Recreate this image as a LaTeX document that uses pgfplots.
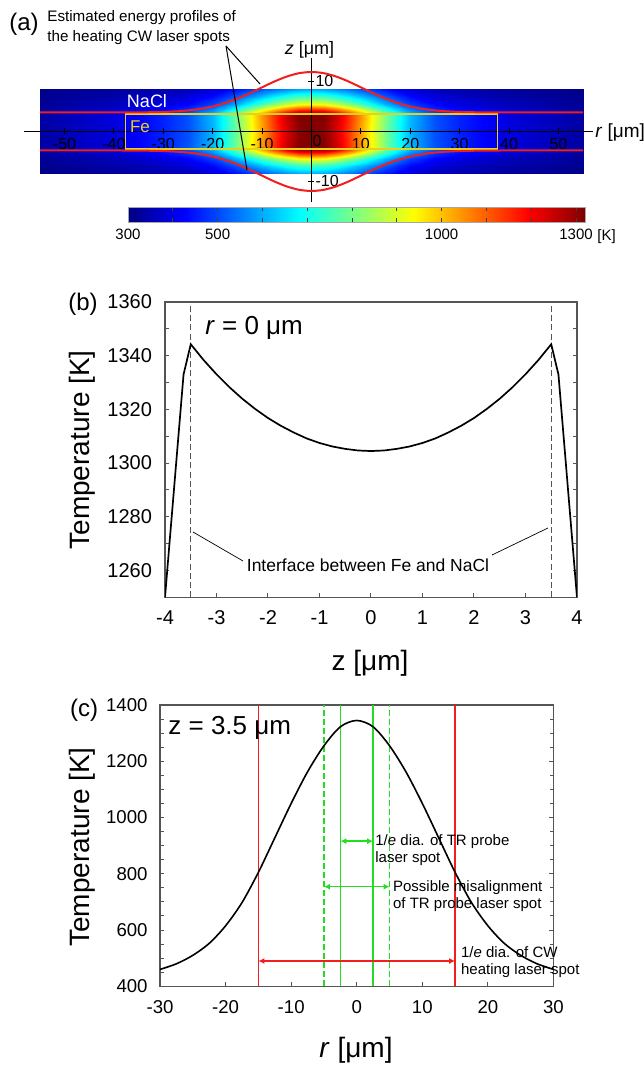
\documentclass[border=0pt]{standalone}
\usepackage{fontspec}
\setmainfont{Liberation Sans}
\usepackage{pgfplots}
\pgfplotsset{compat=1.18}
\usetikzlibrary{arrows.meta}
\definecolor{lred}{HTML}{F21E1E}
\definecolor{lgreen}{HTML}{22DD22}
\definecolor{feyel}{HTML}{E6D21E}
\definecolor{frame}{HTML}{555555}
\newcommand{\fs}[1]{\fontsize{#1}{#1}\selectfont}
\tikzset{lbl/.style={inner sep=0pt}, refpx/.style={x=0.5pt, y=-0.5pt, yshift=533pt}}
\pgfplotsset{
  panel/.style={scale only axis, tick align=inside, xtick pos=left, ytick pos=both, yticklabel pos=left,
    axis line style={frame, line width=0.6pt}, tick style={frame, line width=0.5pt},
    major tick length=2.2pt, minor tick length=1.8pt,
    /pgf/number format/assume math mode=true, /pgf/number format/1000 sep={}},
}

\begin{document}
\begin{tikzpicture}
\path[use as bounding box] (0,0) rectangle (321.5pt,533pt);

% ---------- (a) temperature map ----------
\begin{axis}[at={(12pt,432pt)}, anchor=south west,
  scale only axis, width=284.5pt, height=72pt,
  view={0}{90}, hide axis,
  xmin=-58.2, xmax=57, ymin=-14.1, ymax=14.7,
  colormap/jet, point meta min=300, point meta max=1320,
  colorbar horizontal,
  colorbar style={at={(parent axis.south west)}, anchor=north west,
    xshift=52pt, yshift=6pt, scale only axis, width=228.5pt, height=7.5pt,
    xtick={300,400,...,1300}, xticklabels={300,,500,,,,,1000,,,1300},
    xtick pos=both, xticklabel pos=lower, tick align=inside, major tick length=2pt,
    tick style={black!75, line width=0.4pt}, axis line style={black!35},
    xticklabel style={font=\fs{7.5}},
    /pgf/number format/assume math mode=true},
]
\addplot3[surf, shader=interp, mesh/cols=25] coordinates {
(-55,-8.5,310) (-40,-8.5,327) (-30,-8.5,345) (-25,-8.5,359) (-20,-8.5,388) (-17.5,-8.5,413) (-15,-8.5,441) (-12.5,-8.5,476) (-10,-8.5,508) (-7.5,-8.5,538) (-5,-8.5,566) (-2.5,-8.5,587) (0,-8.5,593) (2.5,-8.5,587) (5,-8.5,566) (7.5,-8.5,538) (10,-8.5,508) (12.5,-8.5,476) (15,-8.5,441) (17.5,-8.5,413) (20,-8.5,388) (25,-8.5,359) (30,-8.5,345) (40,-8.5,327) (55,-8.5,310)

(-55,-7,315) (-40,-7,340) (-30,-7,367) (-25,-7,388) (-20,-7,432) (-17.5,-7,470) (-15,-7,512) (-12.5,-7,564) (-10,-7,612) (-7.5,-7,657) (-5,-7,699) (-2.5,-7,730) (0,-7,739) (2.5,-7,730) (5,-7,699) (7.5,-7,657) (10,-7,612) (12.5,-7,564) (15,-7,512) (17.5,-7,470) (20,-7,432) (25,-7,388) (30,-7,367) (40,-7,340) (55,-7,315)

(-55,-5.5,321) (-40,-5.5,357) (-30,-5.5,396) (-25,-5.5,426) (-20,-5.5,489) (-17.5,-5.5,543) (-15,-5.5,603) (-12.5,-5.5,677) (-10,-5.5,746) (-7.5,-5.5,810) (-5,-5.5,870) (-2.5,-5.5,915) (0,-5.5,927) (2.5,-5.5,915) (5,-5.5,870) (7.5,-5.5,810) (10,-5.5,746) (12.5,-5.5,677) (15,-5.5,603) (17.5,-5.5,543) (20,-5.5,489) (25,-5.5,426) (30,-5.5,396) (40,-5.5,357) (55,-5.5,321)

(-55,-4.5,328) (-40,-4.5,376) (-30,-4.5,428) (-25,-4.5,468) (-20,-4.5,552) (-17.5,-4.5,624) (-15,-4.5,704) (-12.5,-4.5,802) (-10,-4.5,895) (-7.5,-4.5,980) (-5,-4.5,1060) (-2.5,-4.5,1120) (0,-4.5,1136) (2.5,-4.5,1120) (5,-4.5,1060) (7.5,-4.5,980) (10,-4.5,895) (12.5,-4.5,802) (15,-4.5,704) (17.5,-4.5,624) (20,-4.5,552) (25,-4.5,468) (30,-4.5,428) (40,-4.5,376) (55,-4.5,328)

(-55,-3.5,335) (-40,-3.5,395) (-30,-3.5,460) (-25,-3.5,510) (-20,-3.5,615) (-17.5,-3.5,705) (-15,-3.5,805) (-12.5,-3.5,928) (-10,-3.5,1044) (-7.5,-3.5,1150) (-5,-3.5,1250) (-2.5,-3.5,1320) (0,-3.5,1320) (2.5,-3.5,1320) (5,-3.5,1250) (7.5,-3.5,1150) (10,-3.5,1044) (12.5,-3.5,928) (15,-3.5,805) (17.5,-3.5,705) (20,-3.5,615) (25,-3.5,510) (30,-3.5,460) (40,-3.5,395) (55,-3.5,335)

(-55,0,334) (-40,0,393) (-30,0,457) (-25,0,506) (-20,0,609) (-17.5,0,697) (-15,0,795) (-12.5,0,915) (-10,0,1029) (-7.5,0,1133) (-5,0,1231) (-2.5,0,1305) (0,0,1320) (2.5,0,1305) (5,0,1231) (7.5,0,1133) (10,0,1029) (12.5,0,915) (15,0,795) (17.5,0,697) (20,0,609) (25,0,506) (30,0,457) (40,0,393) (55,0,334)

(-55,3.5,335) (-40,3.5,395) (-30,3.5,460) (-25,3.5,510) (-20,3.5,615) (-17.5,3.5,705) (-15,3.5,805) (-12.5,3.5,928) (-10,3.5,1044) (-7.5,3.5,1150) (-5,3.5,1250) (-2.5,3.5,1320) (0,3.5,1320) (2.5,3.5,1320) (5,3.5,1250) (7.5,3.5,1150) (10,3.5,1044) (12.5,3.5,928) (15,3.5,805) (17.5,3.5,705) (20,3.5,615) (25,3.5,510) (30,3.5,460) (40,3.5,395) (55,3.5,335)

(-55,4.5,328) (-40,4.5,376) (-30,4.5,428) (-25,4.5,468) (-20,4.5,552) (-17.5,4.5,624) (-15,4.5,704) (-12.5,4.5,802) (-10,4.5,895) (-7.5,4.5,980) (-5,4.5,1060) (-2.5,4.5,1120) (0,4.5,1136) (2.5,4.5,1120) (5,4.5,1060) (7.5,4.5,980) (10,4.5,895) (12.5,4.5,802) (15,4.5,704) (17.5,4.5,624) (20,4.5,552) (25,4.5,468) (30,4.5,428) (40,4.5,376) (55,4.5,328)

(-55,5.5,321) (-40,5.5,357) (-30,5.5,396) (-25,5.5,426) (-20,5.5,489) (-17.5,5.5,543) (-15,5.5,603) (-12.5,5.5,677) (-10,5.5,746) (-7.5,5.5,810) (-5,5.5,870) (-2.5,5.5,915) (0,5.5,927) (2.5,5.5,915) (5,5.5,870) (7.5,5.5,810) (10,5.5,746) (12.5,5.5,677) (15,5.5,603) (17.5,5.5,543) (20,5.5,489) (25,5.5,426) (30,5.5,396) (40,5.5,357) (55,5.5,321)

(-55,7,315) (-40,7,340) (-30,7,367) (-25,7,388) (-20,7,432) (-17.5,7,470) (-15,7,512) (-12.5,7,564) (-10,7,612) (-7.5,7,657) (-5,7,699) (-2.5,7,730) (0,7,739) (2.5,7,730) (5,7,699) (7.5,7,657) (10,7,612) (12.5,7,564) (15,7,512) (17.5,7,470) (20,7,432) (25,7,388) (30,7,367) (40,7,340) (55,7,315)

(-55,8.5,310) (-40,8.5,327) (-30,8.5,345) (-25,8.5,359) (-20,8.5,388) (-17.5,8.5,413) (-15,8.5,441) (-12.5,8.5,476) (-10,8.5,508) (-7.5,8.5,538) (-5,8.5,566) (-2.5,8.5,587) (0,8.5,593) (2.5,8.5,587) (5,8.5,566) (7.5,8.5,538) (10,8.5,508) (12.5,8.5,476) (15,8.5,441) (17.5,8.5,413) (20,8.5,388) (25,8.5,359) (30,8.5,345) (40,8.5,327) (55,8.5,310)
};
\end{axis}

% axes, laser profiles and Fe foil drawn over the map
\begin{axis}[at={(12pt,432pt)}, anchor=south west,
  scale only axis, width=284.5pt, height=72pt,
  xmin=-58.2, xmax=57, ymin=-14.1, ymax=14.7,
  axis lines=middle, axis line style={-, black, line width=0.5pt},
  every inner x axis line/.append style={-}, every inner y axis line/.append style={-},
  xtick={-50,-40,-30,-20,-10,10,20,30,40,50}, ytick={-10,10},
  tick align=center, major tick length=3pt, tick style={black, line width=0.5pt},
  xticklabel style={font=\fs{8}, yshift=1.5pt},
  yticklabel style={font=\fs{8}, anchor=west},
  /pgf/number format/assume math mode=true,
  clip=false]
\addplot[feyel, line width=0.7pt] coordinates {(-37.7,-3.5) (37.7,-3.5) (37.7,3.5) (-37.7,3.5) (-37.7,-3.5)};
\addplot[lred, line width=1pt, smooth] coordinates {
(-55,3.8) (-40,3.8) (-35,3.82) (-30,3.91) (-27.5,4.02) (-25,4.21) (-22.5,4.53) (-20,5.01) (-17.5,5.69) (-15,6.58) (-12.5,7.65) (-10,8.83) (-7.5,10.0) (-5,10.99) (-2.5,11.66) (0,11.9)
(2.5,11.66) (5,10.99) (7.5,10.0) (10,8.83) (12.5,7.65) (15,6.58) (17.5,5.69) (20,5.01) (22.5,4.53) (25,4.21) (27.5,4.02) (30,3.91) (35,3.82) (40,3.8) (55,3.8)};
\addplot[lred, line width=1pt, smooth] coordinates {
(-55,-3.8) (-40,-3.8) (-35,-3.82) (-30,-3.91) (-27.5,-4.02) (-25,-4.21) (-22.5,-4.53) (-20,-5.01) (-17.5,-5.69) (-15,-6.58) (-12.5,-7.65) (-10,-8.83) (-7.5,-10.0) (-5,-10.99) (-2.5,-11.66) (0,-11.9)
(2.5,-11.66) (5,-10.99) (7.5,-10.0) (10,-8.83) (12.5,-7.65) (15,-6.58) (17.5,-5.69) (20,-5.01) (22.5,-4.53) (25,-4.21) (27.5,-4.02) (30,-3.91) (35,-3.82) (40,-3.8) (55,-3.8)};
\end{axis}

% ---------- (b) T(z) at r = 0 ----------
\begin{axis}[panel, at={(82.5pt,234.35pt)}, anchor=south west,
  width=206pt, height=147.6pt,
  xmin=-4, xmax=4, ymin=1250, ymax=1360,
  xtick={-4,...,4}, ytick={1260,1280,...,1360}, minor y tick num=1,
  ticklabel style={font=\fs{10}},
  xticklabel style={yshift=-3pt}, yticklabel style={xshift=-3pt}]
\addplot[frame, line width=0.5pt, dash pattern=on 3pt off 1.6pt] coordinates {(-3.5,1250) (-3.5,1360)};
\addplot[frame, line width=0.5pt, dash pattern=on 3pt off 1.6pt] coordinates {(3.5,1250) (3.5,1360)};
\addplot[black, line width=0.85pt] coordinates {
(-4,1250) (-3.64,1333) (-3.5,1344.3) (-3.25,1338.4) (-3,1333.1) (-2.75,1328.3) (-2.5,1324.0) (-2.25,1320.2) (-2,1316.8) (-1.75,1313.9) (-1.5,1311.4) (-1.25,1309.2) (-1,1307.5) (-0.75,1306.2) (-0.5,1305.3) (-0.25,1304.7) (0,1304.5)
(0.25,1304.7) (0.5,1305.3) (0.75,1306.2) (1,1307.5) (1.25,1309.2) (1.5,1311.4) (1.75,1313.9) (2,1316.8) (2.25,1320.2) (2.5,1324.0) (2.75,1328.3) (3,1333.1) (3.25,1338.4) (3.5,1344.3) (3.64,1333) (4,1250)};
\end{axis}

% ---------- (c) T(r) at z = 3.5 um ----------
\begin{axis}[panel, at={(80pt,39.85pt)}, anchor=south west,
  width=196.75pt, height=140.65pt,
  xmin=-30, xmax=30, ymin=400, ymax=1400,
  xtick={-30,-20,...,30}, ytick={400,600,...,1400}, minor y tick num=3,
  ticklabel style={font=\fs{9.3}},
  xticklabel style={yshift=-3.5pt}, yticklabel style={xshift=-2.7pt}]
\addplot[lred, line width=0.75pt] coordinates {(-15,400) (-15,1400)};
\addplot[lred, line width=0.75pt] coordinates {(15,400) (15,1400)};
\addplot[lgreen, line width=0.75pt] coordinates {(-2.5,400) (-2.5,1400)};
\addplot[lgreen, line width=0.75pt] coordinates {(2.5,400) (2.5,1400)};
\addplot[lgreen, line width=0.75pt, dash pattern=on 3pt off 1.5pt] coordinates {(-5,400) (-5,1400)};
\addplot[lgreen, line width=0.75pt, dash pattern=on 3pt off 1.5pt] coordinates {(5,400) (5,1400)};
\addplot[black, line width=0.8pt, smooth] coordinates {
(-30,460) (-27.5,480) (-25,510) (-22.5,552.5) (-20,615) (-17.5,697.5) (-15,805) (-12.5,927.5) (-10,1050) (-7.5,1162.5) (-5,1255) (-2.5,1322.5) (0,1345)
(2.5,1322.5) (5,1255) (7.5,1162.5) (10,1050) (12.5,927.5) (15,805) (17.5,697.5) (20,615) (22.5,552.5) (25,510) (27.5,480) (30,460)};
\addplot[lgreen, line width=0.7pt, {Latex[length=3pt,width=3pt]}-{Latex[length=3pt,width=3pt]}] coordinates {(-2.5,916) (2.5,916)};
\addplot[lgreen, line width=0.7pt, {Latex[length=3pt,width=3pt]}-{Latex[length=3pt,width=3pt]}] coordinates {(-5,754) (5,754)};
\addplot[lred, line width=0.7pt, {Latex[length=3pt,width=3pt]}-{Latex[length=3pt,width=3pt]}] coordinates {(-15,490) (15,490)};
\end{axis}

% ---------- labels, placed in reference pixel coordinates ----------
\begin{scope}[refpx]
\node[lbl, font=\fs{12}] at (24,24) {(a)};
\node[lbl, anchor=west, font=\fs{7.6}] at (47,17.5) {Estimated energy profiles of};
\node[lbl, anchor=west, font=\fs{7.6}] at (47,37.7) {the heating CW laser spots};
\draw[black, line width=0.5pt] (226,46) -- (260,84);
\draw[black, line width=0.5pt] (226,46) -- (247,170);
\node[lbl, font=\fs{9}] at (309.5,50) {\textit{z} [μm]};
\node[lbl, anchor=west, font=\fs{9.5}] at (595,133) {\textit{r} [μm]};
\node[lbl, white, font=\fs{9}] at (147,101.5) {NaCl};
\node[lbl, feyel, font=\fs{8.5}] at (140,127) {Fe};
\node[lbl, font=\fs{8}] at (317,141.5) {0};
\node[lbl, anchor=west, font=\fs{7.5}] at (597,237) {[K]};

\node[lbl, font=\fs{12}] at (83,304) {(b)};
\node[lbl, anchor=west, font=\fs{13}] at (205,328) {\textit{r} = 0 μm};
\node[lbl, font=\fs{14}, rotate=90] at (82,450) {Temperature [K]};
\node[lbl, font=\fs{14}] at (370,663) {z [μm]};
\node[lbl, font=\fs{8.75}] at (368,565) {Interface between Fe and NaCl};
\draw[black, line width=0.35pt] (243,561) -- (193,532);
\draw[black, line width=0.35pt] (492,555) -- (548,528);

\node[lbl, font=\fs{12}] at (84,710) {(c)};
\node[lbl, anchor=west, font=\fs{13}] at (168,728) {z = 3.5 μm};
\node[lbl, font=\fs{14}, rotate=90] at (82,847) {Temperature [K]};
\node[lbl, font=\fs{14}] at (356,1050) {\textit{r} [μm]};
\node[lbl, anchor=north west, align=left, font=\fontsize{7.5}{8.3}\selectfont] at (375,834.5) {1/\textit{e} dia. of TR probe\\laser spot};
\node[lbl, anchor=north west, align=left, font=\fontsize{7.5}{8.3}\selectfont] at (392.7,880.5) {Possible misalignment\\of TR probe laser spot};
\node[lbl, anchor=north west, align=left, font=\fontsize{7.5}{8.8}\selectfont] at (460.7,946) {1/\textit{e} dia. of CW\\heating laser spot};
\end{scope}
\end{tikzpicture}
\end{document}
